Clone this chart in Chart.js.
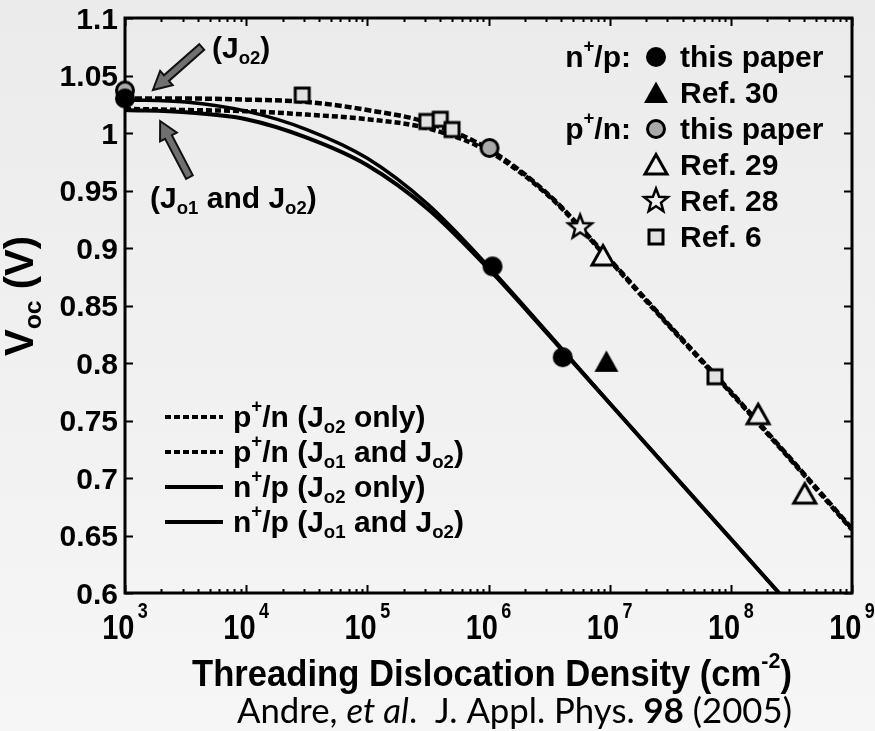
<!DOCTYPE html>
<html>
<head>
<meta charset="utf-8">
<title>Voc vs threading dislocation density</title>
<script src="https://cdn.jsdelivr.net/npm/chart.js@4.4.1/dist/chart.umd.min.js"></script>
<style>
  html, body { margin: 0; padding: 0; background: #efefef; }
  #wrap { width: 875px; height: 731px; }
  canvas { display: block; }
</style>
</head>
<body>
<div id="wrap"><canvas id="vocChart" width="875" height="731"></canvas></div>
<script>
/* Voc vs threading dislocation density, p+/n and n+/p cells */

// model curves (density in cm^-2, Voc in V)
const pnDensity = [1e3, 3.16e3, 1e4, 3.16e4, 1e5, 3.16e5, 1e6, 3.16e6, 1e7, 3.16e7, 1e8, 3.16e8, 1e9];
const pnJo2Only = [1.030, 1.030, 1.029, 1.027, 1.020, 1.009, 0.986, 0.946, 0.890, 0.832, 0.775, 0.716, 0.656];
const pnJo1Jo2  = [1.021, 1.020, 1.019, 1.016, 1.012, 1.004, 0.984, 0.945, 0.889, 0.831, 0.774, 0.715, 0.655];

const npDensity = [1e3, 3.16e3, 1e4, 3.16e4, 1e5, 3.16e5, 1e6, 3.16e6, 1e7, 3.16e7, 1e8, 2.5e8];
const npJo2Only = [1.029, 1.027, 1.019, 1.003, 0.978, 0.938, 0.884, 0.825, 0.765, 0.706, 0.647, 0.600];
const npJo1Jo2  = [1.020, 1.018, 1.012, 0.996, 0.972, 0.934, 0.882, 0.824, 0.765, 0.706, 0.647, 0.600];

// measured points
const npThisPaperX = [1e3, 1.08e6, 4.1e6];
const npThisPaperY = [1.030, 0.884, 0.805];
const npRef30X = [9.4e6];
const npRef30Y = [0.801];
const pnThisPaperX = [1e3, 1.02e6];
const pnThisPaperY = [1.037, 0.987];
const pnRef29X = [8.8e6, 1.68e8, 4.07e8];
const pnRef29Y = [0.893, 0.755, 0.686];
const pnRef28X = [5.7e6];
const pnRef28Y = [0.918];
const pnRef6X = [2.9e4, 3.1e5, 4.0e5, 5.0e5, 7.4e7];
const pnRef6Y = [1.033, 1.010, 1.012, 1.003, 0.788];

// axes
const voltTicks  = [0.6, 0.65, 0.7, 0.75, 0.8, 0.85, 0.9, 0.95, 1.0, 1.05, 1.1];
const voltLabels = ['0.6', '0.65', '0.7', '0.75', '0.8', '0.85', '0.9', '0.95', '1', '1.05', '1.1'];
const decadeTicks = [1e3, 1e4, 1e5, 1e6, 1e7, 1e8, 1e9];
const decadeExps  = ['3', '4', '5', '6', '7', '8', '9'];

const FONT = '"Liberation Sans", Arial, Helvetica, sans-serif';
const CITE_FONT = 'Lato, "Open Sans", sans-serif';

function zip(xs, ys) {
    return xs.map((x, i) => ({ x, y: ys[i] }));
}

// ---------- marker images ----------
function makeMarker(kind) {
    const c = document.createElement('canvas');
    c.width = 36;
    c.height = 36;
    const g = c.getContext('2d');
    g.translate(18, 18);
    g.strokeStyle = '#000';
    g.lineWidth = 3;
    g.lineJoin = 'miter';
    g.beginPath();
    if (kind === 'dot') {
        g.arc(0, 0, 10, 0, Math.PI * 2);
        g.fillStyle = '#000';
        g.fill();
    } else if (kind === 'ring') {
        g.arc(0, 0, 8.5, 0, Math.PI * 2);
        g.fillStyle = '#a9a9a9';
        g.fill();
        g.stroke();
    } else if (kind === 'tri' || kind === 'triOpen') {
        const open = kind === 'triOpen';
        const hw = open ? 11 : 12;
        g.moveTo(0, open ? -10.5 : -11.5);
        g.lineTo(hw, open ? 9 : 10);
        g.lineTo(-hw, open ? 9 : 10);
        g.closePath();
        g.fillStyle = open ? '#f1f1f1' : '#000';
        g.fill();
        if (open) g.stroke();
    } else if (kind === 'star') {
        for (let i = 0; i < 10; i++) {
            const r = i % 2 === 0 ? 12.5 : 5.3;
            const a = -Math.PI / 2 + i * Math.PI / 5;
            const px = Math.cos(a) * r;
            const py = Math.sin(a) * r;
            if (i === 0) g.moveTo(px, py); else g.lineTo(px, py);
        }
        g.closePath();
        g.fillStyle = '#eeeeee';
        g.fill();
        g.lineWidth = 2.5;
        g.stroke();
    } else if (kind === 'square') {
        g.rect(-7, -7, 14, 14);
        g.fillStyle = '#e2e2e2';
        g.fill();
        g.stroke();
    }
    return c;
}

const MARK = {
    dot: makeMarker('dot'),
    ring: makeMarker('ring'),
    tri: makeMarker('tri'),
    triOpen: makeMarker('triOpen'),
    star: makeMarker('star'),
    square: makeMarker('square')
};

// ---------- rich text (sub/superscripts) ----------
function partFont(p, o) {
    const size = (p.sub || p.sup) ? o.size * (p.scale || 0.62) : o.size;
    const style = p.italic ? 'italic ' : '';
    const weight = p.bold ? 'bold ' : (o.weight ? o.weight + ' ' : '');
    return style + weight + size.toFixed(2) + 'px ' + o.family;
}

function richWidth(ctx, parts, o) {
    let w = 0;
    parts.forEach(p => {
        ctx.font = partFont(p, o);
        w += ctx.measureText(p.t).width + (p.gap || 0) * o.size;
    });
    return w;
}

function drawRich(ctx, parts, x, y, o) {
    const w = richWidth(ctx, parts, o);
    const startX = o.align === 'center' ? x - w / 2 : o.align === 'right' ? x - w : x;
    ctx.save();
    ctx.translate(startX, y);
    ctx.scale(1, o.sy || 1);
    ctx.textAlign = 'left';
    ctx.textBaseline = 'alphabetic';
    ctx.fillStyle = '#000';
    let px = 0;
    parts.forEach(p => {
        ctx.font = partFont(p, o);
        px += (p.gap || 0) * o.size;
        let dy = 0;
        if (p.sub) dy = 0.2 * o.size;
        if (p.sup) dy = -(p.rise || 0.45) * o.size;
        ctx.fillText(p.t, px, dy);
        px += ctx.measureText(p.t).width;
    });
    ctx.restore();
    return w;
}

function fitSize(ctx, parts, o, target) {
    const w = richWidth(ctx, parts, o);
    return o.size * target / w;
}

function drawArrow(ctx, x0, y0, x1, y1) {
    const ang = Math.atan2(y1 - y0, x1 - x0);
    const len = Math.hypot(x1 - x0, y1 - y0);
    const shaft = 3.8, head = 9.5, headLen = 18;
    ctx.save();
    ctx.translate(x0, y0);
    ctx.rotate(ang);
    ctx.beginPath();
    ctx.moveTo(0, -shaft);
    ctx.lineTo(len - headLen, -shaft);
    ctx.lineTo(len - headLen, -head);
    ctx.lineTo(len, 0);
    ctx.lineTo(len - headLen, head);
    ctx.lineTo(len - headLen, shaft);
    ctx.lineTo(0, shaft);
    ctx.closePath();
    ctx.fillStyle = '#707070';
    ctx.fill();
    ctx.lineWidth = 2;
    ctx.strokeStyle = '#111';
    ctx.lineJoin = 'miter';
    ctx.stroke();
    ctx.restore();
}

// ---------- figure decorations ----------
const figurePlugin = {
    id: 'figurePlugin',
    beforeDraw(chart) {
        const ctx = chart.ctx;
        const grad = ctx.createLinearGradient(0, 0, 0, chart.height);
        grad.addColorStop(0, '#ebebeb');
        grad.addColorStop(1, '#f6f6f6');
        ctx.save();
        ctx.fillStyle = grad;
        ctx.fillRect(0, 0, chart.width, chart.height);
        ctx.restore();
    },
    beforeDatasetsDraw(chart) {
        const { ctx, chartArea: a, scales } = chart;
        ctx.save();
        ctx.strokeStyle = '#000';
        ctx.lineWidth = 2;
        ctx.beginPath();
        // y ticks on both sides
        voltTicks.forEach(v => {
            const py = Math.round(scales.y.getPixelForValue(v)) + 0.5;
            ctx.moveTo(a.left, py); ctx.lineTo(a.left + 8, py);
            ctx.moveTo(a.right, py); ctx.lineTo(a.right - 8, py);
        });
        // x ticks, decades plus minor 2..9
        decadeTicks.forEach((d, i) => {
            const px = Math.round(scales.x.getPixelForValue(d)) + 0.5;
            ctx.moveTo(px, a.bottom); ctx.lineTo(px, a.bottom - 8);
            ctx.moveTo(px, a.top); ctx.lineTo(px, a.top + 8);
            if (i < decadeTicks.length - 1) {
                for (let m = 2; m <= 9; m++) {
                    const mx = Math.round(scales.x.getPixelForValue(d * m)) + 0.5;
                    ctx.moveTo(mx, a.bottom); ctx.lineTo(mx, a.bottom - 4);
                    ctx.moveTo(mx, a.top); ctx.lineTo(mx, a.top + 4);
                }
            }
        });
        ctx.stroke();
        ctx.lineWidth = 3;
        ctx.strokeRect(a.left, a.top, a.right - a.left, a.bottom - a.top);
        ctx.restore();
    },
    afterDraw(chart) {
        const { ctx, chartArea: a, scales } = chart;
        const X = v => scales.x.getPixelForValue(v);
        const Y = v => scales.y.getPixelForValue(v);

        // y tick labels
        ctx.save();
        ctx.fillStyle = '#000';
        ctx.font = 'bold 30px ' + FONT;
        ctx.textAlign = 'right';
        ctx.textBaseline = 'alphabetic';
        voltTicks.forEach((v, i) => {
            ctx.fillText(voltLabels[i], a.left - 7, Y(v) + 10.5);
        });
        ctx.restore();

        // x tick labels 10^n
        decadeTicks.forEach((d, i) => {
            drawRich(ctx, [{ t: '10' }, { t: decadeExps[i], sup: true, rise: 0.6, gap: 0.12 }],
                X(d), a.bottom + 46, { size: 29, family: FONT, weight: 'bold', align: 'center', sy: 1.18 });
        });

        // axis titles
        const titleParts = [{ t: 'Threading Dislocation Density (cm' }, { t: '-2', sup: true, rise: 0.5 }, { t: ')' }];
        const tOpt = { size: 34, family: FONT, weight: 'bold', align: 'center', sy: 1.05 };
        tOpt.size = fitSize(ctx, titleParts, tOpt, 600);
        drawRich(ctx, titleParts, 492, 686, tOpt);

        const yParts = [{ t: 'V' }, { t: 'oc', sub: true }, { t: ' (V)' }];
        const yOpt = { size: 32, family: FONT, weight: 'bold', align: 'center' };
        yOpt.size = fitSize(ctx, yParts, yOpt, 120);
        ctx.save();
        ctx.translate(33, 296);
        ctx.rotate(-Math.PI / 2);
        drawRich(ctx, yParts, 0, 0, yOpt);
        ctx.restore();

        // citation line
        const citeParts = [
            { t: 'Andre, ' }, { t: 'et al', italic: true }, { t: '.  J. Appl. Phys. ' },
            { t: '98', bold: true }, { t: ' (2005)' }
        ];
        const cOpt = { size: 30, family: CITE_FONT, weight: 'normal', align: 'left' };
        cOpt.size = fitSize(ctx, citeParts, cOpt, 555);
        drawRich(ctx, citeParts, 237, 723, cOpt);

        // arrows and their labels
        drawArrow(ctx, X(4.3e3), Y(1.0748), X(1.7e3), Y(1.0374));
        drawArrow(ctx, X(3.4e3), Y(0.9617), X(1.95e3), Y(1.0104));
        const bodyOpt = { size: 30, family: FONT, weight: 'bold', align: 'left' };
        drawRich(ctx, [{ t: '(J' }, { t: 'o2', sub: true }, { t: ')' }], 212, 58, bodyOpt);
        drawRich(ctx, [{ t: '(J' }, { t: 'o1', sub: true }, { t: ' and J' }, { t: 'o2', sub: true }, { t: ')' }], 150, 208, bodyOpt);

        // marker key, upper right
        const keyRows = [
            [MARK.dot, 'this paper'], [MARK.tri, 'Ref. 30'], [MARK.ring, 'this paper'],
            [MARK.triOpen, 'Ref. 29'], [MARK.star, 'Ref. 28'], [MARK.square, 'Ref. 6']
        ];
        const keyBase = [67, 103, 139, 175, 211, 247];
        keyRows.forEach((row, i) => {
            ctx.drawImage(row[0], 656 - 18, keyBase[i] - 10 - 18);
            drawRich(ctx, [{ t: row[1] }], 680, keyBase[i], bodyOpt);
        });
        const groupOpt = { size: 30, family: FONT, weight: 'bold', align: 'right' };
        drawRich(ctx, [{ t: 'n' }, { t: '+', sup: true, rise: 0.5 }, { t: '/p:' }], 631, keyBase[0], groupOpt);
        drawRich(ctx, [{ t: 'p' }, { t: '+', sup: true, rise: 0.5 }, { t: '/n:' }], 631, keyBase[2], groupOpt);

        // line key, lower left
        const lineRows = [
            { dash: [6, 3], parts: [{ t: 'p' }, { t: '+', sup: true, rise: 0.5 }, { t: '/n (J' }, { t: 'o2', sub: true }, { t: ' only)' }] },
            { dash: [6, 3], parts: [{ t: 'p' }, { t: '+', sup: true, rise: 0.5 }, { t: '/n (J' }, { t: 'o1', sub: true }, { t: ' and J' }, { t: 'o2', sub: true }, { t: ')' }] },
            { dash: [], parts: [{ t: 'n' }, { t: '+', sup: true, rise: 0.5 }, { t: '/p (J' }, { t: 'o2', sub: true }, { t: ' only)' }] },
            { dash: [], parts: [{ t: 'n' }, { t: '+', sup: true, rise: 0.5 }, { t: '/p (J' }, { t: 'o1', sub: true }, { t: ' and J' }, { t: 'o2', sub: true }, { t: ')' }] }
        ];
        const lineBase = [427, 462, 497, 532];
        lineRows.forEach((row, i) => {
            const ly = lineBase[i] - 10;
            ctx.save();
            ctx.strokeStyle = '#000';
            ctx.lineWidth = 4;
            ctx.lineCap = 'butt';
            ctx.setLineDash(row.dash);
            ctx.beginPath();
            ctx.moveTo(165, ly);
            ctx.lineTo(223, ly);
            ctx.stroke();
            ctx.restore();
            drawRich(ctx, row.parts, 233, lineBase[i], bodyOpt);
        });
    }
};

// ---------- datasets ----------
function curve(label, xs, ys, dash, width) {
    return {
        label,
        data: zip(xs, ys),
        showLine: true,
        borderColor: '#000',
        backgroundColor: '#000',
        borderWidth: width,
        borderDash: dash,
        borderCapStyle: 'butt',
        cubicInterpolationMode: 'monotone',
        pointRadius: 0,
        order: 2
    };
}

function points(label, xs, ys, marker) {
    return {
        label,
        data: zip(xs, ys),
        showLine: false,
        pointStyle: marker,
        pointRadius: 10,
        clip: false,
        order: 0
    };
}

new Chart(document.getElementById('vocChart'), {
    type: 'scatter',
    data: {
        datasets: [
            points('n+/p this paper', npThisPaperX, npThisPaperY, MARK.dot),
            points('n+/p Ref. 30', npRef30X, npRef30Y, MARK.tri),
            points('p+/n this paper', pnThisPaperX, pnThisPaperY, MARK.ring),
            points('p+/n Ref. 29', pnRef29X, pnRef29Y, MARK.triOpen),
            points('p+/n Ref. 28', pnRef28X, pnRef28Y, MARK.star),
            points('p+/n Ref. 6', pnRef6X, pnRef6Y, MARK.square),
            curve('p+/n (Jo2 only)', pnDensity, pnJo2Only, [7, 3], 4.5),
            curve('p+/n (Jo1 and Jo2)', pnDensity, pnJo1Jo2, [6, 3], 4.5),
            curve('n+/p (Jo2 only)', npDensity, npJo2Only, [], 3.5),
            curve('n+/p (Jo1 and Jo2)', npDensity, npJo1Jo2, [], 4)
        ]
    },
    options: {
        responsive: false,
        animation: false,
        devicePixelRatio: 1,
        events: [],
        layout: {
            padding: { left: 125, right: 23, top: 18, bottom: 138 }
        },
        plugins: {
            legend: { display: false },
            tooltip: { enabled: false }
        },
        scales: {
            x: { type: 'logarithmic', min: 1e3, max: 1e9, display: false },
            y: { type: 'linear', min: 0.6, max: 1.1, display: false }
        }
    },
    plugins: [figurePlugin]
});
</script>
</body>
</html>
